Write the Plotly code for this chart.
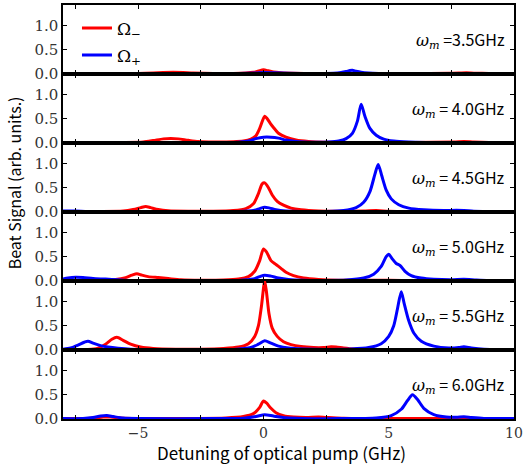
import plotly.graph_objects as go
from plotly.subplots import make_subplots

# ---------------- data ----------------
panel_labels = ["3.5GHz", "4.0GHz", "4.5GHz", "5.0GHz", "5.5GHz", "6.0GHz"]
label_sep = ["=", "= ", "= ", "= ", "= ", "= "]

x_red_35 = [-8, -6, -5, -4.4, -4.0, -3.6, -3.2, -2.8, -2, -1.2, -0.7, -0.4, -0.2, 0, 0.2, 0.4, 0.7, 1.2, 2, 4, 6, 7.4, 7.8, 8.1, 8.4, 9, 10]
y_red_35 = [0.01, 0.01, 0.012, 0.02, 0.03, 0.035, 0.03, 0.02, 0.012, 0.012, 0.02, 0.035, 0.06, 0.085, 0.065, 0.04, 0.025, 0.015, 0.01, 0.01, 0.01, 0.015, 0.02, 0.025, 0.018, 0.012, 0.01]
x_blue_35 = [-8, -4, -1, -0.3, 0, 0.4, 1, 2, 2.8, 3.1, 3.3, 3.45, 3.55, 3.7, 3.9, 4.2, 4.6, 5.5, 8, 10]
y_blue_35 = [0.008, 0.008, 0.01, 0.02, 0.03, 0.025, 0.015, 0.01, 0.015, 0.03, 0.05, 0.07, 0.075, 0.055, 0.035, 0.02, 0.012, 0.008, 0.008, 0.008]

x_red_40 = [-8, -5.5, -4.8, -4.4, -4.0, -3.7, -3.4, -3.0, -2.6, -2, -1.2, -0.8, -0.5, -0.3, -0.15, 0.05, 0.15, 0.28, 0.4, 0.6, 0.9, 1.3, 1.8, 2.5, 4, 6, 7.6, 8.0, 8.4, 9, 10]
y_red_40 = [0.01, 0.01, 0.02, 0.05, 0.085, 0.095, 0.085, 0.055, 0.03, 0.02, 0.025, 0.04, 0.08, 0.15, 0.3, 0.55, 0.5, 0.4, 0.32, 0.2, 0.12, 0.06, 0.03, 0.015, 0.012, 0.012, 0.02, 0.03, 0.02, 0.012, 0.01]
x_blue_40 = [-8, -4, -1.2, -0.6, -0.3, 0, 0.3, 0.6, 0.9, 1.3, 2, 2.6, 3.0, 3.3, 3.55, 3.75, 3.9, 4.05, 4.25, 4.5, 4.8, 5.2, 5.8, 6.5, 8, 10]
y_blue_40 = [0.008, 0.008, 0.01, 0.04, 0.09, 0.12, 0.12, 0.1, 0.06, 0.03, 0.015, 0.02, 0.04, 0.09, 0.2, 0.45, 0.8, 0.55, 0.3, 0.16, 0.08, 0.04, 0.02, 0.012, 0.008, 0.008]

x_red_45 = [-8, -6.5, -5.6, -5.2, -4.9, -4.7, -4.5, -4.2, -3.8, -3, -2, -1.2, -0.7, -0.4, -0.2, -0.05, 0.05, 0.2, 0.35, 0.55, 0.8, 1.1, 1.5, 2.2, 3, 4, 4.5, 5, 6, 8, 10]
y_red_45 = [0.01, 0.01, 0.02, 0.05, 0.09, 0.115, 0.09, 0.05, 0.025, 0.015, 0.015, 0.03, 0.07, 0.17, 0.38, 0.58, 0.6, 0.5, 0.35, 0.22, 0.14, 0.08, 0.045, 0.02, 0.015, 0.02, 0.03, 0.015, 0.01, 0.01, 0.01]
x_blue_45 = [-8, -7.5, -7, -5, -1, -0.4, -0.15, 0.05, 0.25, 0.5, 0.9, 1.5, 2.5, 3.2, 3.7, 4.0, 4.25, 4.45, 4.58, 4.72, 4.9, 5.1, 5.4, 5.8, 6.4, 7.2, 7.7, 8.0, 8.4, 9, 10]
y_blue_45 = [0.02, 0.02, 0.01, 0.008, 0.01, 0.03, 0.07, 0.1, 0.08, 0.045, 0.02, 0.012, 0.012, 0.03, 0.09, 0.2, 0.42, 0.78, 0.98, 0.75, 0.45, 0.27, 0.15, 0.08, 0.045, 0.03, 0.035, 0.03, 0.015, 0.01, 0.008]

x_red_50 = [-8, -6.5, -5.9, -5.5, -5.25, -5.05, -4.85, -4.6, -4.2, -3.8, -3.3, -2.5, -1.6, -1.0, -0.6, -0.35, -0.15, 0.0, 0.12, 0.3, 0.5, 0.7, 0.9, 1.2, 1.6, 2.2, 3, 4, 5, 6, 8, 10]
y_red_50 = [0.01, 0.01, 0.03, 0.07, 0.12, 0.15, 0.12, 0.09, 0.07, 0.05, 0.025, 0.015, 0.02, 0.04, 0.09, 0.2, 0.42, 0.66, 0.6, 0.42, 0.34, 0.26, 0.18, 0.11, 0.06, 0.03, 0.015, 0.015, 0.015, 0.01, 0.01, 0.01]
x_blue_50 = [-8, -7.8, -7.5, -7.2, -6.8, -6.3, -5.8, -5.3, -4, -1, -0.4, -0.15, 0.05, 0.3, 0.6, 1.0, 1.6, 2.5, 3.3, 4.0, 4.4, 4.7, 4.9, 5.0, 5.15, 5.3, 5.45, 5.65, 5.9, 6.3, 6.8, 7.5, 8.0, 8.5, 9, 10]
y_blue_50 = [0.04, 0.06, 0.075, 0.07, 0.05, 0.04, 0.025, 0.012, 0.008, 0.012, 0.04, 0.09, 0.12, 0.1, 0.06, 0.03, 0.015, 0.012, 0.02, 0.06, 0.14, 0.3, 0.5, 0.55, 0.45, 0.36, 0.32, 0.2, 0.11, 0.06, 0.035, 0.025, 0.035, 0.02, 0.01, 0.008]

x_red_55 = [-8, -7, -6.6, -6.3, -6.05, -5.85, -5.6, -5.3, -4.9, -4.4, -3.5, -2.5, -1.6, -1.0, -0.6, -0.35, -0.2, -0.08, 0.05, 0.12, 0.22, 0.35, 0.55, 0.8, 1.1, 1.5, 2.0, 2.4, 2.7, 2.9, 3.2, 3.6, 4.5, 6, 8, 10]
y_red_55 = [0.01, 0.01, 0.04, 0.12, 0.22, 0.26, 0.2, 0.12, 0.06, 0.03, 0.015, 0.015, 0.03, 0.06, 0.13, 0.28, 0.5, 0.9, 1.42, 1.2, 0.75, 0.45, 0.28, 0.17, 0.11, 0.07, 0.05, 0.05, 0.065, 0.06, 0.04, 0.02, 0.012, 0.01, 0.01, 0.01]
x_blue_55 = [-8, -7.7, -7.4, -7.15, -7.0, -6.8, -6.5, -6.2, -5.8, -5.3, -4, -1.2, -0.5, -0.2, 0.05, 0.3, 0.6, 1.0, 1.6, 2.5, 3.5, 4.2, 4.7, 5.0, 5.2, 5.35, 5.5, 5.62, 5.8, 6.0, 6.3, 6.8, 7.4, 7.8, 8.0, 8.3, 8.8, 10]
y_blue_55 = [0.015, 0.04, 0.1, 0.16, 0.18, 0.14, 0.09, 0.06, 0.035, 0.015, 0.008, 0.012, 0.05, 0.12, 0.19, 0.14, 0.08, 0.04, 0.02, 0.012, 0.02, 0.05, 0.13, 0.28, 0.5, 0.85, 1.2, 0.95, 0.6, 0.35, 0.18, 0.08, 0.04, 0.05, 0.065, 0.04, 0.015, 0.008]

x_red_60 = [-8, -7, -6.7, -6.4, -6.1, -5.7, -5, -3, -1.5, -0.8, -0.4, -0.15, 0.0, 0.12, 0.3, 0.5, 0.8, 1.2, 1.7, 2.2, 2.6, 3.2, 4, 6, 8, 10]
y_red_60 = [0.01, 0.01, 0.02, 0.04, 0.04, 0.02, 0.01, 0.01, 0.02, 0.05, 0.11, 0.24, 0.37, 0.33, 0.22, 0.13, 0.07, 0.04, 0.03, 0.04, 0.03, 0.015, 0.01, 0.01, 0.01, 0.01]
x_blue_60 = [-8, -7.2, -6.8, -6.5, -6.25, -6.0, -5.6, -5, -2, -0.8, -0.3, 0.05, 0.4, 0.9, 1.5, 3, 4.5, 5.1, 5.5, 5.75, 5.95, 6.15, 6.4, 6.8, 7.3, 7.7, 8.0, 8.3, 8.8, 10]
y_blue_60 = [0.008, 0.01, 0.03, 0.06, 0.07, 0.05, 0.02, 0.01, 0.008, 0.015, 0.05, 0.09, 0.06, 0.025, 0.012, 0.008, 0.02, 0.07, 0.2, 0.38, 0.5, 0.4, 0.22, 0.09, 0.04, 0.035, 0.045, 0.03, 0.012, 0.008]

red_x = [x_red_35, x_red_40, x_red_45, x_red_50, x_red_55, x_red_60]
red_y = [y_red_35, y_red_40, y_red_45, y_red_50, y_red_55, y_red_60]
blue_x = [x_blue_35, x_blue_40, x_blue_45, x_blue_50, x_blue_55, x_blue_60]
blue_y = [y_blue_35, y_blue_40, y_blue_45, y_blue_50, y_blue_55, y_blue_60]

x_tickvals = [-5, 0, 5, 10]
x_ticktext = ["\u22125", "0", "5", "10"]
x_minor_ticks = [-7.5, -2.5, 2.5, 7.5]
y_tickvals = [0, 0.5, 1.0]
y_ticktext = ["0.0", "0.5", "1.0"]

RED = "#ff0000"
BLUE = "#0000ff"
SERIF = "DejaVu Serif"
SANS = "Noto Sans CJK SC"

fig = make_subplots(rows=6, cols=1, shared_xaxes=True, vertical_spacing=0)

for i in range(6):
    r = i + 1
    fig.add_trace(go.Scatter(x=red_x[i], y=red_y[i], mode="lines",
                             line=dict(color=RED, width=3, shape="spline", smoothing=0.7),
                             name="\u03a9<sub>\u2212</sub>", showlegend=(i == 0),
                             legendgroup="minus", legendrank=1), row=r, col=1)
    fig.add_trace(go.Scatter(x=blue_x[i], y=blue_y[i], mode="lines",
                             line=dict(color=BLUE, width=3, shape="spline", smoothing=0.7),
                             name="\u03a9<sub>+</sub>", showlegend=(i == 0),
                             legendgroup="plus", legendrank=2), row=r, col=1)
    fig.update_yaxes(range=[0, 1.42], tickvals=y_tickvals, ticktext=y_ticktext,
                     ticks="inside", ticklen=4, tickwidth=1, tickcolor="black",
                     showline=True, linecolor="black", linewidth=1.5, mirror="ticks",
                     showgrid=False, zeroline=False,
                     tickfont=dict(family=SERIF, size=15, color="#333333"),
                     row=r, col=1)
    fig.update_xaxes(range=[-8, 10], tickvals=x_tickvals, ticktext=x_ticktext,
                     ticks="inside", ticklen=4, tickwidth=1, tickcolor="black",
                     minor=dict(tickvals=x_minor_ticks, ticks="inside",
                                ticklen=4, tickwidth=1, tickcolor="black"),
                     showline=True, linecolor="black", linewidth=1.5, mirror="ticks",
                     showgrid=False, zeroline=False, ticklabeloverflow="allow",
                     tickfont=dict(family=SERIF, size=14, color="#333333"),
                     row=r, col=1)
    yname = "y" if i == 0 else "y%d" % r
    xname = "x" if i == 0 else "x%d" % r
    fig.add_annotation(
        text=("<span style='font-family:DejaVu Serif'><i>\u03c9<sub>m</sub></i></span> "
              + label_sep[i] + panel_labels[i]),
        xref=xname + " domain", yref=yname, x=0.985, y=0.72,
        xanchor="right", yanchor="middle", showarrow=False,
        font=dict(family=SANS, size=16, color="black"))

fig.add_annotation(text="Beat Signal (arb. units.)", xref="paper", yref="paper",
                   x=-0.108, y=0.57, textangle=-90, showarrow=False,
                   xanchor="center", yanchor="middle",
                   font=dict(family=SANS, size=16, color="black"))
fig.add_annotation(text="Detuning of optical pump (GHz)", xref="paper", yref="paper",
                   x=0.484, y=-0.082, showarrow=False,
                   xanchor="center", yanchor="middle",
                   font=dict(family=SANS, size=17, color="black"))

fig.update_layout(
    width=527, height=468,
    margin=dict(l=63, r=9, t=4, b=49),
    paper_bgcolor="white", plot_bgcolor="white",
    legend=dict(x=0.031, y=0.987, xanchor="left", yanchor="top",
                bgcolor="rgba(0,0,0,0)", borderwidth=0,
                font=dict(family=SERIF, size=17, color="black"),
                tracegroupgap=2, itemwidth=30),
)

fig.write_html("out.html", config={"displayModeBar": False},
               post_script="document.body.style.margin='0';document.body.style.padding='0';")
